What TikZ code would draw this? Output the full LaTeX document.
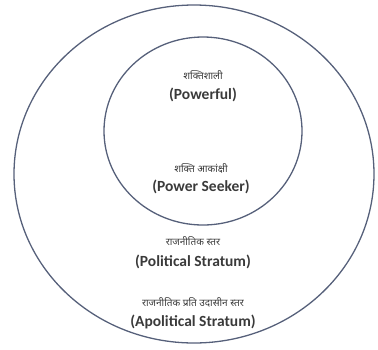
\documentclass[tikz,border=0pt]{standalone}
\usepackage{fontspec}
\setmainfont{Carlito}
\newfontfamily\hindi[Script=Devanagari]{Noto Sans}
\usepackage{xcolor}
\usetikzlibrary{
    shapes.geometric,
    positioning
}
\definecolor{ringgray}{HTML}{56607A}
\definecolor{textgray}{HTML}{3A3A3A}
\tikzset{
  ring/.style = {
      draw=ringgray,
      ellipse,
      line width=1.3pt,
      inner sep=0pt
  },
  hindi/.style = {
      font=\hindi\fontsize{10}{12}\selectfont,
      text=textgray,
      inner sep=1pt
  },
  english/.style = {
      font=\fontsize{15.5}{18}\selectfont\bfseries,
      text=textgray,
      inner sep=1pt
  }
}

\begin{document}
\begin{tikzpicture}[x=1pt, y=-1pt]
    \useasboundingbox (0,0) rectangle (378,349);
    % Rings
    \node[ring, minimum width=360pt, minimum height=338pt] (outer) at (194,174) {};
    \node[ring, minimum width=198pt, minimum height=188pt] (middle) at (203,131) {};
    % Labels
    \node[hindi] (h1) at (203,75) {शक्तिशाली};
    \node[english] (e1) at (203,95) {(Powerful)};
    \node[hindi] (h2) at (201,168) {शक्ति आकांक्षी};
    \node[english] (e2) at (201,187) {(Power Seeker)};
    \node[hindi] (h3) at (193,241) {राजनीतिक स्तर};
    \node[english] (e3) at (193,262) {(Political Stratum)};
    \node[hindi] (h4) at (193,302) {राजनीतिक प्रति उदासीन स्तर};
    \node[english] (e4) at (193,322) {(Apolitical Stratum)};
\end{tikzpicture}
\end{document}
